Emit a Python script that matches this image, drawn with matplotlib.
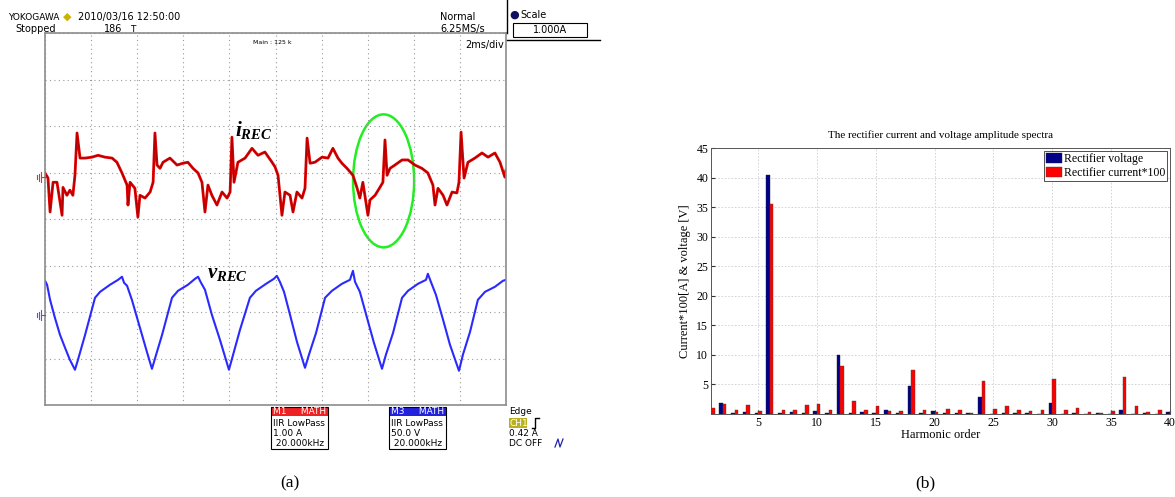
import numpy as np
import matplotlib
matplotlib.use('Agg')
from matplotlib import pyplot as plt
from matplotlib.patches import Ellipse, Rectangle
from matplotlib.lines import Line2D

# ---- (a) oscilloscope traces ----
# time in ms (2 ms/div), rectifier current in A (1 A/div)
t_red = [0.00, 0.13, 0.22, 0.35, 0.52, 0.74, 0.78, 0.95, 1.08, 1.21,
         1.30, 1.39, 1.52, 1.74, 2.04, 2.30, 2.60, 2.91, 3.12, 3.34,
         3.56, 3.60, 3.69, 3.90, 4.03, 4.12, 4.34, 4.56, 4.69, 4.77,
         4.86, 4.99, 5.12, 5.42, 5.73, 5.99, 6.20, 6.42, 6.64, 6.81,
         6.94, 7.07, 7.24, 7.46, 7.68, 7.90, 8.03, 8.11, 8.20, 8.37,
         8.68, 8.98, 9.24, 9.54, 9.85, 9.98, 10.11, 10.28, 10.41, 10.63,
         10.76, 10.93, 11.15, 11.28, 11.37, 11.50, 11.71, 12.02, 12.28, 12.49,
         12.71, 12.88, 13.10, 13.36, 13.53, 13.66, 13.79, 14.01, 14.10, 14.32,
         14.53, 14.66, 14.75, 14.84, 14.97, 15.18, 15.49, 15.75, 16.05, 16.35,
         16.61, 16.83, 16.92, 17.05, 17.27, 17.44, 17.66, 17.87, 17.96, 18.05,
         18.18, 18.35, 18.65, 18.96, 19.22, 19.52, 19.74, 19.95, 20.00]
i_red = [0.09, -0.02, -0.75, -0.11, -0.11, -0.82, -0.22, -0.39, -0.28, -0.39,
         0.04, 0.95, 0.41, 0.41, 0.43, 0.47, 0.43, 0.41, 0.32, 0.09,
         -0.17, -0.60, -0.11, -0.24, -0.86, -0.39, -0.45, -0.32, -0.11, 0.95,
         0.26, 0.19, 0.32, 0.41, 0.26, 0.30, 0.32, 0.19, 0.09, -0.11,
         -0.75, -0.17, -0.39, -0.60, -0.32, -0.45, -0.32, 0.86, -0.11, 0.32,
         0.41, 0.62, 0.47, 0.54, 0.32, 0.22, 0.04, -0.82, -0.32, -0.39,
         -0.75, -0.32, -0.45, -0.24, 0.84, 0.30, 0.32, 0.43, 0.41, 0.62,
         0.41, 0.30, 0.19, 0.04, -0.22, -0.45, -0.11, -0.82, -0.49, -0.39,
         -0.22, -0.11, 0.80, 0.04, 0.19, 0.26, 0.37, 0.37, 0.26, 0.19,
         0.09, -0.17, -0.60, -0.24, -0.39, -0.60, -0.32, -0.34, -0.11, 0.97,
         -0.02, 0.32, 0.41, 0.52, 0.43, 0.52, 0.32, 0.00, 0.15]

# rectifier voltage in V (50 V/div)
t_blue = [0.00, 0.09, 0.22, 0.43, 0.65, 0.87, 1.08, 1.30, 1.43, 1.74,
          2.17, 2.39, 2.82, 3.17, 3.34, 3.43, 3.56, 3.77, 4.12, 4.42,
          4.64, 4.82, 5.08, 5.51, 5.77, 6.20, 6.51, 6.64, 6.77, 6.94,
          7.24, 7.59, 7.98, 8.16, 8.46, 8.89, 9.15, 9.59, 9.93, 10.06,
          10.19, 10.37, 10.63, 10.93, 11.28, 11.45, 11.76, 12.15, 12.45, 12.88,
          13.23, 13.36, 13.45, 13.66, 13.97, 14.27, 14.62, 14.79, 15.10, 15.49,
          15.75, 16.18, 16.53, 16.61, 16.74, 16.96, 17.27, 17.57, 17.96, 18.13,
          18.44, 18.78, 19.09, 19.52, 19.87, 20.00]
v_blue = [36.6, 32.3, 16.1, -3.2, -21.5, -35.5, -48.4, -59.1, -48.4, -21.5,
          18.3, 24.7, 32.3, 37.6, 40.9, 34.4, 31.2, 16.1, -14.0, -39.8,
          -58.1, -43.0, -21.5, 18.3, 25.8, 32.3, 38.7, 40.9, 34.4, 26.9,
          0.0, -26.9, -59.1, -43.0, -16.1, 18.3, 25.8, 33.3, 38.7, 41.9,
          35.5, 24.7, 0.0, -29.0, -57.0, -43.0, -19.4, 18.3, 25.8, 33.3,
          37.6, 47.3, 35.5, 24.7, -3.2, -30.1, -58.1, -43.0, -19.4, 18.3,
          25.8, 33.3, 37.6, 44.1, 35.5, 21.5, -5.4, -32.3, -60.2, -43.0,
          -18.3, 16.1, 24.7, 30.1, 36.6, 37.6]

# ---- (b) harmonic spectra ----
harmonics = list(range(1, 41))
volt_amp = [0.0, 1.9, 0.1, 0.3, 0.15, 40.5, 0.2, 0.3, 0.12, 0.5,
            0.1, 10.0, 0.25, 0.3, 0.1, 0.75, 0.25, 4.8, 0.1, 0.5,
            0.1, 0.1, 0.1, 2.9, 0.05, 0.25, 0.1, 0.2, 0.05, 1.8,
            0.05, 0.2, 0.05, 0.25, 0.05, 0.65, 0.05, 0.2, 0.05, 0.3]
curr_amp = [1.05, 1.75, 0.75, 1.45, 0.5, 35.6, 0.7, 0.75, 1.6, 1.7,
            0.75, 8.2, 2.2, 0.75, 1.35, 0.55, 0.5, 7.4, 0.75, 0.4,
            0.8, 0.75, 0.1, 5.5, 0.85, 1.35, 0.65, 0.5, 0.7, 5.85,
            0.7, 0.95, 0.4, 0.15, 0.45, 6.25, 1.3, 0.4, 0.75, 0.5]

W, H = 1175, 497
def fx(x): return x / W
def fy(y): return 1 - y / H

plt.rcParams['mathtext.fontset'] = 'custom'
plt.rcParams['mathtext.it'] = 'Liberation Serif:italic:bold'
plt.rcParams['mathtext.rm'] = 'Liberation Serif:bold'

fig = plt.figure(figsize=(W / 100, H / 100), dpi=100)
fig.patch.set_facecolor('white')

# ================= scope screen =================
ax1 = fig.add_axes([fx(45), fy(405), 461 / W, 372 / H])
ax1.set_xlim(0, 20)
ax1.set_ylim(-4, 4)
ax1.set_xticks(np.arange(0, 21, 2))
ax1.set_yticks(np.arange(-4, 5, 1))
ax1.tick_params(length=0, labelbottom=False, labelleft=False)
ax1.grid(True, ls=(0, (1, 3)), color='#9a9a9a', lw=0.8)
for s in ax1.spines.values():
    s.set_color('#8c8c8c')
    s.set_linewidth(1.2)

red_pos, blue_pos = 0.90, -2.06   # ground positions in divisions
ax1.plot(t_red, np.array(i_red) / 1.0 + red_pos, color='#dd0000', lw=2.0)
ax1.plot(t_red, np.array(i_red) / 1.0 + red_pos, color='#8a0000', lw=0.5, alpha=0.7)
ax1.plot(t_blue, np.array(v_blue) / 50.0 + blue_pos, color='#2a2aff', lw=1.5)

ax1.add_patch(Ellipse((14.69, 0.82), 2.65, 2.86, fill=False, ec='#22ee22', lw=1.8, clip_on=False))
ax1.text(8.24, 1.91, r'$i_{REC}$', fontsize=15, ha='left', va='center')
ax1.text(7.03, -1.16, r'$v_{REC}$', fontsize=15, ha='left', va='center')

# ground symbols
for gy, c in [(177, '#dd3333'), (315, '#5555ee')]:
    fig.add_artist(Line2D([fx(41), fx(45)], [fy(gy), fy(gy)], color=c, lw=0.8))
    for gx, hl in [(41, 5), (39, 3.5), (37, 2)]:
        fig.add_artist(Line2D([fx(gx), fx(gx)], [fy(gy - hl), fy(gy + hl)], color=c, lw=0.8))

sf = 'DejaVu Sans'
fig.text(fx(8), fy(17), 'YOKOGAWA', fontsize=6.5, family=sf, va='center')
fig.text(fx(63), fy(17), '\u25c6', fontsize=8, color='#c8b400', family=sf, va='center')
fig.text(fx(78), fy(17), '2010/03/16 12:50:00', fontsize=7, family=sf, va='center')
fig.text(fx(15), fy(29), 'Stopped', fontsize=7, family=sf, va='center')
fig.text(fx(104), fy(29), '186', fontsize=7, family=sf, va='center')
fig.text(fx(130), fy(30), 'T', fontsize=6.5, family=sf, va='center')
fig.text(fx(440), fy(17), 'Normal', fontsize=7, family=sf, va='center')
fig.text(fx(440), fy(29), '6.25MS/s', fontsize=7, family=sf, va='center')
fig.text(fx(253), fy(42), 'Main : 125 k', fontsize=4.5, family=sf, va='center')
fig.text(fx(504), fy(45), '2ms/div', fontsize=7, family=sf, va='center', ha='right')

# scale panel
fig.add_artist(Line2D([fx(507), fx(507)], [fy(0), fy(33)], color='black', lw=1))
fig.add_artist(Line2D([fx(507), fx(600)], [fy(40), fy(40)], color='black', lw=1))
fig.text(fx(509), fy(15), '\u25cf', fontsize=8, color='#101060', family=sf, va='center')
fig.text(fx(520), fy(15), 'Scale', fontsize=7, family=sf, va='center')
fig.add_artist(Rectangle((fx(513), fy(37)), 74 / W, 14 / H, fill=False, ec='black', lw=0.8))
fig.text(fx(550), fy(30), '1.000A', fontsize=7, family=sf, va='center', ha='center')

# math boxes
for x0, head, col, lines in [(271, 'M1     MATH', '#ee2222', ['IIR LowPass', '1.00 A', ' 20.000kHz']),
                             (389, 'M3     MATH', '#2222dd', ['IIR LowPass', '50.0 V', ' 20.000kHz'])]:
    fig.add_artist(Rectangle((fx(x0), fy(416)), 57 / W, 9 / H, fc=col, ec='none'))
    fig.add_artist(Rectangle((fx(x0), fy(449)), 57 / W, 42 / H, fill=False, ec='black', lw=0.8))
    fig.text(fx(x0 + 2), fy(411.5), head, fontsize=6.5, color='white', family=sf, va='center')
    for k, ln in enumerate(lines):
        fig.text(fx(x0 + 2), fy(424 + 10 * k), ln, fontsize=6.5, family=sf, va='center')

fig.text(fx(509), fy(412), 'Edge', fontsize=6.5, family=sf, va='center')
fig.add_artist(Rectangle((fx(509), fy(428)), 18 / W, 10 / H, fc='#b8b020', ec='none'))
fig.text(fx(510), fy(423), 'CH1', fontsize=6.5, color='white', family=sf, va='center')
fig.add_artist(Line2D([fx(532), fx(535), fx(535), fx(539)], [fy(428), fy(428), fy(418), fy(418)],
                      color='black', lw=1))
fig.text(fx(509), fy(434), '0.42 A', fontsize=6.5, family=sf, va='center')
fig.text(fx(509), fy(444), 'DC OFF', fontsize=6.5, family=sf, va='center')
fig.add_artist(Line2D([fx(555), fx(558), fx(560), fx(563)], [fy(447), fy(439), fy(447), fy(439)],
                      color='#2222aa', lw=0.9))

fig.text(fx(290), fy(483), '(a)', fontsize=12.5, family='Liberation Serif', ha='center', va='center')

# ================= spectra =================
serif = 'Liberation Serif'
ax2 = fig.add_axes([fx(711), fy(414), 459 / W, 266 / H])
h = np.array(harmonics)
ax2.bar(h - 0.15, volt_amp, width=0.3, color='#00008b', ec='#222222', lw=0.3,
        label='Rectifier voltage', zorder=3)
ax2.bar(h + 0.15, curr_amp, width=0.3, color='#ff0000', ec='#444444', lw=0.3,
        label='Rectifier current*100', zorder=3)
ax2.set_xlim(1, 40)
ax2.set_ylim(0, 45)
ax2.set_xticks(range(5, 41, 5))
ax2.set_yticks(range(5, 46, 5))
ax2.grid(True, ls=(0, (2, 2)), color='#cfcfcf', lw=0.6, zorder=0)
ax2.tick_params(direction='in', length=3, labelsize=8.5, colors='#333333', pad=2)
for lab in ax2.get_xticklabels() + ax2.get_yticklabels():
    lab.set_family(serif)
    lab.set_color('black')
for s in ax2.spines.values():
    s.set_color('#555555')
    s.set_linewidth(0.7)
ax2.set_title('The rectifier current and voltage amplitude spectra', fontsize=8, family=serif, pad=7)
ax2.set_xlabel('Harmonic order', fontsize=9, family=serif, labelpad=0)
ax2.set_ylabel('Current*100[A] & voltage [V]', fontsize=9, family=serif, labelpad=4)
leg = ax2.legend(loc='upper right', fancybox=False, edgecolor='#333333', framealpha=1,
                 prop={'family': serif, 'size': 8.5}, borderaxespad=0.25,
                 handlelength=1.3, handleheight=1.0, handletextpad=0.2,
                 borderpad=0.15, labelspacing=0.15)
leg.get_frame().set_linewidth(0.6)

fig.text(fx(925), fy(483), '(b)', fontsize=12.5, family=serif, ha='center', va='center')

fig.savefig('out.png', dpi=100)
